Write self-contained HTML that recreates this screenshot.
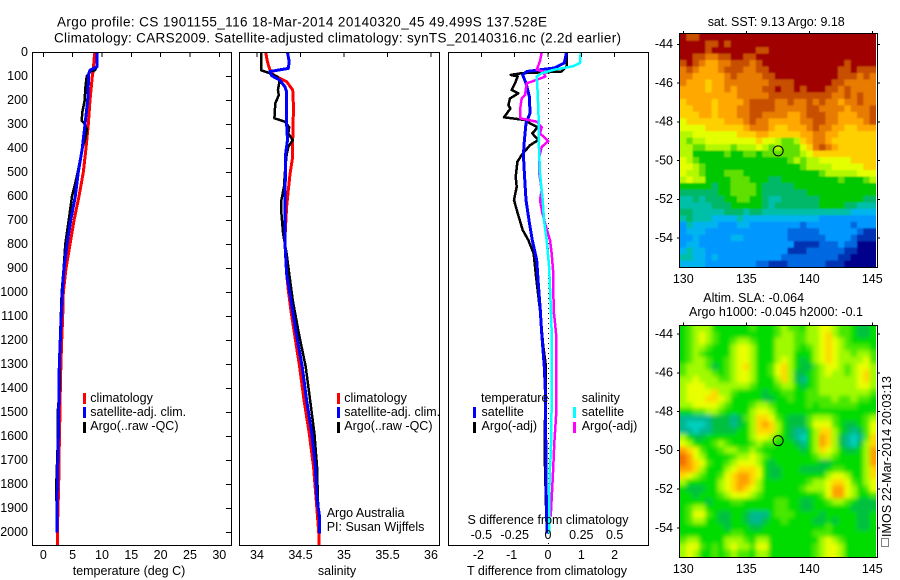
<!DOCTYPE html>
<html>
<head>
<meta charset="utf-8">
<title>Argo profile chart</title>
<style>
html,body{margin:0;padding:0;background:#fff;width:900px;height:580px;overflow:hidden}
svg{display:block}
text{font-family:"Liberation Sans",sans-serif;font-size:12.5px;fill:#000}
.frame{fill:none;stroke:#000;stroke-width:1.4;shape-rendering:crispEdges}
.tick{stroke:#000;stroke-width:1;shape-rendering:crispEdges}
.prof{fill:none;stroke-linejoin:round;shape-rendering:crispEdges}
</style>
</head>
<body>
<svg id="chart" xmlns="http://www.w3.org/2000/svg" width="900" height="580" viewBox="0 0 900 580">
<defs>
<clipPath id="clip-sst"><rect x="680" y="34" width="196" height="233"/></clipPath>
<clipPath id="clip-sla"><rect x="680" y="326" width="196" height="231"/></clipPath>
<filter id="soft" x="-5%" y="-5%" width="110%" height="110%"><feGaussianBlur stdDeviation="2"/></filter>
<filter id="soft-sst" x="-5%" y="-5%" width="110%" height="110%"><feGaussianBlur stdDeviation="0.8"/></filter>
</defs>
<text x="57" y="26.5" style="font-size:13.5px" textLength="490" lengthAdjust="spacing">Argo profile: CS 1901155_116 18-Mar-2014 20140320_45 49.499S 137.528E</text>
<text x="54" y="42.5" style="font-size:13.5px" textLength="567" lengthAdjust="spacing">Climatology: CARS2009. Satellite-adjusted climatology: synTS_20140316.nc (2.2d earlier)</text>

<g id="layer-maps"></g>
<g id="layer-lines"></g>
<g id="layer-axes"></g>

<rect class="frame" x="32.5" y="52.5" width="199" height="493"/>
<rect class="frame" x="239.5" y="52.5" width="200" height="493"/>
<rect class="frame" x="448.5" y="52.5" width="200" height="493"/>
<rect class="frame" x="679.5" y="33.5" width="198" height="234"/>
<rect class="frame" x="679.5" y="325.5" width="198" height="232"/>

<text x="129" y="575" text-anchor="middle">temperature (deg C)</text>
<text x="337" y="575" text-anchor="middle">salinity</text>
<text x="467" y="575">T difference from climatology</text>
<text x="467.5" y="524">S difference from climatology</text>

<g>
<rect x="83" y="393" width="3" height="11" fill="#f00"/>
<rect x="83" y="407" width="3" height="11" fill="#00f"/>
<rect x="83" y="422" width="3" height="11" fill="#000"/>
<text x="90.3" y="402">climatology</text>
<text x="90.3" y="416">satellite-adj. clim.</text>
<text x="90.3" y="430">Argo(..raw -QC)</text>
</g>
<g>
<rect x="337" y="393" width="3" height="11" fill="#f00"/>
<rect x="337" y="407" width="3" height="11" fill="#00f"/>
<rect x="337" y="422" width="3" height="11" fill="#000"/>
<text x="344.3" y="402">climatology</text>
<text x="344.3" y="416">satellite-adj. clim.</text>
<text x="344.3" y="430">Argo(..raw -QC)</text>
<text x="326.7" y="517">Argo Australia</text>
<text x="326.7" y="531">PI: Susan Wijffels</text>
</g>
<g>
<text x="481" y="402">temperature</text>
<text x="581.7" y="402">salinity</text>
<rect x="473" y="407" width="3" height="11" fill="#00f"/>
<rect x="473" y="422" width="3" height="11" fill="#000"/>
<rect x="573" y="407" width="3" height="11" fill="#0ff"/>
<rect x="573" y="422" width="3" height="11" fill="#f0f"/>
<text x="481.5" y="416">satellite</text>
<text x="481.5" y="430">Argo(-adj)</text>
<text x="581.7" y="416">satellite</text>
<text x="581.7" y="430">Argo(-adj)</text>
</g>

<text x="707.7" y="26" textLength="137" lengthAdjust="spacing">sat. SST: 9.13 Argo: 9.18</text>
<text x="703.3" y="302">Altim. SLA: -0.064</text>
<text x="689" y="316" textLength="174" lengthAdjust="spacing">Argo h1000: -0.045 h2000: -0.1</text>
<text transform="translate(891,537) rotate(-90)" textLength="161" lengthAdjust="spacing">IMOS 22-Mar-2014 20:03:13</text>
<rect x="881.5" y="538.5" width="7" height="8" fill="none" stroke="#000" stroke-dasharray="1 1" shape-rendering="crispEdges"/>
</svg>

<script>
// ---------- depth axis ----------
const depthTicks = [0,100,200,300,400,500,600,700,800,900,1000,1100,1200,1300,1400,1500,1600,1700,1800,1900,2000];
const tempTicks = [0,5,10,15,20,25,30];
const salTicks = [34,34.5,35,35.5,36];
const tDiffTicks = [-2,-1,0,1,2];
const tDiffLabels = ['-2','-1','0','1','2'];
const sDiffTicks = [-0.5,-0.25,0,0.25,0.5];
const sDiffLabels = ['-0.5','-0.25','0','0.25','0.5'];
const lonTicks = [130,135,140,145];
const latTicks = [-44,-46,-48,-50,-52,-54];

// ---------- temperature profiles ----------
const climTDepth = [0,75,100,200,300,400,500,600,700,800,900,1000,1100,1200,1300,1400,1500,1600,1800,2000,2055];
const climT = [8.76,8.5,8.35,7.96,7.67,7.28,6.82,6.08,5.23,4.55,3.87,3.41,3.3,3.13,3.0,2.9,2.85,2.75,2.62,2.39,2.39];
const satTDepth = [0,60,75,90,200,300,400,500,600,700,800,900,1000,1100,1200,1300,1400,1600,1800,2000];
const satT = [9.15,9.15,7.96,7.73,7.56,7.1,6.65,5.97,5.46,4.67,4.04,3.53,3.24,3.07,2.9,2.73,2.67,2.56,2.39,2.34];
const argoTDepth = [0,60,75,80,100,150,200,250,285,295,320,360,400,500,550,600,700,800,900,1000,1200,1400,1500,1600,1800,1900,2000];
const argoT = [9.15,9.15,8.8,8.0,7.4,7.16,7.05,6.65,6.55,6.94,7.45,7.16,6.65,5.86,5.4,4.9,4.33,3.75,3.47,3.13,2.85,2.8,2.45,2.5,2.22,2.27,2.34];

// ---------- salinity profiles ----------
const climSDepth = [0,39,87,108,122,157,227,366,435,505,574,644,714,783,853,922,991,1075,1171,1310,1449,1587,1726,1865,2004,2055];
const climS = [34.10,34.12,34.16,34.26,34.34,34.41,34.42,34.41,34.41,34.38,34.36,34.34,34.33,34.32,34.33,34.34,34.36,34.39,34.43,34.49,34.54,34.6,34.65,34.68,34.71,34.71];
const satSDepth = [0,39,67,80,98,115,143,164,296,366,421,505,574,644,783,922,1032,1171,1310,1449,1588,1726,1865,1935,2004];
const satS = [34.35,34.37,34.36,34.15,34.17,34.26,34.32,34.34,34.34,34.35,34.33,34.33,34.32,34.32,34.32,34.34,34.39,34.45,34.52,34.57,34.63,34.67,34.69,34.72,34.72];
const argoSDepth = [0,75,87,101,118,157,178,213,275,289,312,338,366,394,428,505,560,616,671,755,839,922,1032,1171,1310,1449,1588,1726,1865,1935];
const argoS = [34.05,34.05,34.15,34.23,34.26,34.24,34.25,34.21,34.2,34.32,34.37,34.36,34.41,34.36,34.34,34.32,34.31,34.28,34.28,34.3,34.34,34.37,34.41,34.48,34.56,34.61,34.66,34.69,34.7,34.71];

// ---------- difference profiles ----------
const satDTDepth = [0,44,65,80,94,129,185,254,296,366,428,505,616,700,783,866,963,1075,1171,1310,1449,1588,1726,1865,2004];
const satDT = [0.56,0.49,0.2,-0.64,-0.76,-0.66,-0.56,-0.54,-0.66,-0.71,-0.74,-0.71,-0.66,-0.57,-0.47,-0.34,-0.29,-0.23,-0.19,-0.11,-0.07,-0.07,-0.06,-0.05,-0.03];
const argoDTDepth = [0,58,80,87,94,101,129,157,171,192,220,234,271,282,296,312,338,366,387,428,456,519,560,616,671,741,783,839,922,1075,1226,1310,1600,1726,1935];
const argoDT = [0.56,0.56,0.41,-0.79,-1.12,-0.91,-0.99,-1.09,-0.89,-1.14,-1.19,-1.13,-1.32,-0.69,-0.54,-0.31,-0.47,-0.29,-0.54,-0.79,-0.92,-0.97,-0.94,-1.02,-0.91,-0.76,-0.59,-0.43,-0.37,-0.24,-0.14,-0.06,-0.1,-0.09,-0.05];
const satDSDepth = [0,44,58,72,87,101,171,282,366,421,505,616,700,783,894,1075,1171,1449,1671,1726,1865,2004];
const satDS = [0.245,0.24,0.19,0.05,-0.047,-0.085,-0.077,-0.07,-0.07,-0.066,-0.06,-0.04,-0.03,-0.01,0.008,0.022,0.028,0.028,0.022,0.015,0.008,0.008];
const argoDSDepth = [0,37,72,80,101,115,129,157,178,192,241,275,289,312,338,370,394,435,505,574,616,671,727,783,839,922,1075,1115,1171,1518,1629,1726,1810,1935];
const argoDS = [-0.047,-0.06,-0.085,-0.035,-0.02,-0.085,-0.16,-0.167,-0.172,-0.197,-0.21,-0.21,-0.085,-0.047,-0.06,0.002,-0.047,-0.065,-0.065,-0.047,-0.06,-0.042,-0.015,0.015,0.028,0.04,0.042,0.05,0.06,0.06,0.047,0.04,0.032,0.02];

// ---------- SST map: rows north to south, palette level per cell ----------
const sstPalette = ['#00008c','#0030b4','#0068e0','#0098ff','#00b4f0','#00bfa8','#00b868','#00c800','#60e000','#b4f800','#e4ff00','#ffd000','#ffa800','#e87c00','#c85000','#a00000'];
const sstLevels = [
[15,14,14,15,15,15,15,15,15,15,15,15,15,15,15,15,15,15,15,15,15,15,15,15,15,15,15,15,15,15,15],
[15,15,15,15,14,14,15,14,15,15,15,15,15,15,15,15,15,15,15,15,15,15,15,15,15,15,15,15,15,15,15],
[15,15,15,15,14,15,15,15,15,15,15,15,14,14,15,15,15,15,15,15,15,15,15,15,15,15,15,15,15,15,15],
[15,15,14,14,13,13,14,14,15,15,14,14,15,15,15,15,15,15,15,15,15,15,15,15,15,15,15,15,15,15,15],
[14,15,14,13,12,12,13,13,14,14,14,13,14,15,15,15,15,15,15,15,15,15,15,15,15,15,14,15,15,15,15],
[13,14,13,12,12,12,13,14,14,14,13,13,14,14,15,15,15,15,15,15,15,15,15,15,15,14,14,15,14,14,14],
[13,13,12,12,12,12,12,13,14,13,13,13,13,14,14,15,15,15,15,15,15,15,15,15,15,14,14,14,13,14,13],
[13,12,12,12,11,12,12,13,13,13,13,13,13,13,14,14,14,14,15,15,15,15,15,15,14,14,13,13,13,13,13],
[12,12,12,12,11,12,12,13,12,13,13,13,13,14,14,15,14,14,15,14,15,15,15,14,14,13,14,13,13,13,13],
[12,12,12,12,12,12,12,12,12,13,13,13,13,13,14,14,14,14,14,14,14,14,14,14,13,13,14,13,14,13,13],
[11,12,12,12,12,11,12,12,12,12,13,14,14,14,14,13,13,14,13,13,14,13,14,13,13,12,13,13,14,13,13],
[11,11,12,12,12,11,12,12,12,13,13,14,14,14,14,13,13,13,13,13,14,14,13,13,13,13,12,13,13,13,14],
[11,11,11,12,12,11,12,12,12,13,13,14,14,13,13,13,13,12,12,13,14,14,14,13,13,12,12,12,13,13,14],
[10,11,11,11,11,11,11,12,12,12,13,14,13,13,12,12,12,12,12,13,13,14,14,13,13,12,12,12,12,13,14],
[10,10,10,10,11,11,11,11,11,11,12,13,13,13,12,11,11,12,12,12,13,14,13,13,12,12,11,11,12,12,12],
[9,9,10,10,10,10,10,10,10,11,11,11,12,12,11,11,11,11,11,12,12,13,13,12,12,11,11,11,11,11,11],
[9,8,9,9,10,10,10,10,10,10,10,10,11,10,10,9,8,8,9,11,12,13,13,12,11,11,11,11,11,11,11],
[9,9,8,8,9,9,9,9,8,9,9,9,10,9,8,9,8,8,8,10,11,13,14,13,12,11,11,11,11,11,11],
[9,9,7,7,7,7,7,8,7,7,8,8,7,8,8,8,8,8,8,9,10,11,11,11,11,11,11,11,11,11,11],
[10,9,8,7,7,7,7,7,7,7,7,7,7,7,7,7,7,8,9,8,9,9,10,10,10,10,10,11,11,11,11],
[10,10,9,8,7,7,7,7,7,7,7,7,7,7,7,7,7,7,7,8,9,9,9,9,10,10,10,10,10,11,11],
[10,9,9,8,7,7,7,8,8,8,7,7,7,7,7,7,7,7,7,7,7,7,8,9,9,9,9,9,10,10,10],
[9,10,9,9,7,7,7,7,8,8,8,7,7,7,6,6,7,7,7,7,7,7,7,7,7,8,7,7,7,8,9],
[7,7,7,7,7,6,7,7,8,8,8,8,7,6,6,6,6,6,7,7,7,7,7,7,7,7,7,7,7,7,7],
[6,6,6,6,6,6,7,7,8,8,8,8,7,6,6,6,6,6,6,6,7,7,7,7,7,7,7,7,7,7,7],
[5,5,6,5,6,6,6,7,7,8,8,7,7,6,5,5,6,6,6,6,6,6,7,7,7,7,7,7,7,6,6],
[5,5,5,5,5,6,6,6,7,7,7,7,7,6,5,6,6,6,6,6,6,6,7,7,7,7,6,6,5,5,5],
[6,6,5,5,5,5,5,6,6,6,5,6,6,5,5,5,5,5,5,5,5,5,5,5,5,5,5,4,4,4,4],
[5,6,5,5,5,4,4,4,4,5,4,4,4,4,4,4,4,4,4,4,4,4,3,3,3,3,3,3,3,3,3],
[3,5,4,4,4,4,3,3,3,4,4,3,3,3,3,3,3,3,3,2,3,3,3,3,3,3,3,2,3,3,3],
[3,4,4,4,3,3,3,3,3,3,3,3,3,3,3,3,3,2,2,2,2,2,3,3,3,3,3,3,2,1,1],
[3,3,4,3,3,3,3,3,4,4,3,3,3,3,3,3,3,2,2,2,2,2,2,3,3,3,3,2,1,1,1],
[3,4,4,3,3,3,3,3,3,3,3,3,3,3,3,3,3,3,1,1,1,1,2,2,2,3,2,2,0,0,0],
[4,5,4,4,3,3,3,3,3,3,3,3,3,3,3,3,3,1,1,1,2,2,2,2,2,2,1,1,0,0,0],
[5,5,4,4,3,4,3,3,3,3,3,3,3,3,3,3,2,2,2,2,2,2,2,2,2,1,1,0,0,0,0],
[4,4,4,4,3,3,3,3,3,3,3,3,2,2,1,1,1,2,2,2,2,2,2,1,1,1,0,0,0,0,0]
];

// ---------- SLA map: rows north to south, palette level per cell ----------
const slaPalette = ['#00d0c0','#00b890','#00c040','#00dc00','#48e800','#a0fa00','#e8ff00','#ffd800','#ffa000','#f07000'];
const slaLevels = [
[3,4,5,5,5,3,3,3,3,3,3,4,3,3,3,4,5,4,4,3,5,5,6,6,5,4,4,3,2,2,3],
[3,4,5,6,5,4,3,3,3,3,3,3,3,3,3,4,5,5,4,4,5,5,6,7,5,4,4,3,2,2,3],
[3,4,5,6,5,4,3,3,4,5,5,4,3,3,3,5,5,5,4,4,5,5,6,7,6,5,4,3,3,3,3],
[3,4,5,5,4,3,3,3,5,6,6,5,3,3,3,5,5,5,4,3,4,5,6,7,6,5,4,4,4,4,3],
[3,4,5,4,3,3,3,3,5,6,6,5,3,3,3,5,5,5,3,3,3,5,6,7,6,5,5,4,5,5,4],
[3,4,5,5,4,3,3,4,5,6,6,5,3,3,3,5,6,5,3,2,3,5,6,7,6,5,5,5,5,6,4],
[4,5,5,5,4,2,3,4,5,6,7,5,3,3,4,6,7,5,3,2,2,4,5,6,6,5,4,5,6,6,5],
[4,5,5,5,5,4,3,4,5,6,6,5,3,3,4,6,7,5,2,2,3,4,5,6,5,5,4,5,6,7,5],
[5,5,6,5,5,5,4,4,5,6,6,5,3,3,3,5,7,5,2,1,3,4,5,5,5,5,5,5,6,7,5],
[5,6,6,6,5,5,5,5,5,5,5,4,3,3,3,4,5,5,3,2,3,4,5,5,5,5,5,5,6,6,5],
[5,6,6,6,6,7,5,5,4,3,3,3,3,2,3,3,4,4,3,3,4,4,5,5,5,5,5,5,5,5,4],
[5,6,6,6,7,7,6,5,3,3,3,3,3,2,2,3,3,4,3,3,4,4,4,4,5,4,4,5,4,4,3],
[5,5,6,6,6,6,5,4,3,3,3,4,5,5,4,3,3,3,3,3,4,3,4,4,4,4,4,4,3,3,3],
[3,3,4,4,5,5,4,3,3,3,3,5,6,6,5,3,3,3,3,3,3,3,3,3,3,3,3,3,3,3,3],
[1,1,1,1,1,2,2,2,1,2,4,5,7,7,6,4,3,2,2,2,4,5,5,5,4,3,3,3,3,4,5],
[1,0,0,0,1,2,2,2,1,2,3,5,7,8,7,5,3,2,2,2,4,6,6,6,4,3,2,2,3,4,6],
[1,1,0,1,1,2,2,2,2,3,3,5,7,7,7,5,3,2,1,1,3,5,7,7,5,3,2,1,2,4,6],
[5,3,2,2,3,3,3,3,3,3,3,5,6,6,5,4,3,2,1,0,3,5,8,7,5,2,1,0,1,4,7],
[6,5,3,3,3,4,5,4,3,3,3,4,5,4,4,3,3,3,2,1,3,5,8,7,5,2,1,0,2,5,7],
[8,7,6,4,3,3,4,5,5,4,4,5,4,3,3,3,3,3,3,2,3,5,7,6,5,3,2,2,3,5,8],
[9,8,6,5,3,3,3,3,4,5,5,6,5,4,3,3,3,3,3,3,3,4,5,5,4,3,3,3,3,5,8],
[9,8,7,6,4,3,3,4,5,6,6,6,5,3,2,3,3,3,3,3,3,3,2,2,3,3,3,3,3,5,8],
[8,8,7,5,3,3,3,5,6,7,7,7,6,3,2,2,3,3,3,2,2,2,2,3,4,4,3,3,3,5,7],
[7,6,5,4,3,3,4,6,7,8,8,7,6,3,2,2,3,3,3,3,3,3,3,5,6,6,5,3,3,5,7],
[5,3,3,3,3,3,5,6,7,8,8,7,5,3,3,3,3,3,3,3,4,5,5,6,7,7,6,4,3,5,6],
[3,2,2,2,3,3,5,6,7,8,7,6,5,3,3,3,3,3,3,4,5,5,5,6,8,8,6,5,3,4,6],
[3,3,2,3,3,3,4,5,6,6,6,5,4,3,3,3,3,3,3,3,3,3,4,6,8,8,6,5,3,3,4],
[3,3,3,3,2,3,3,3,4,4,3,3,3,3,3,4,4,3,3,2,2,3,3,4,5,5,4,3,2,2,2],
[3,4,5,5,3,3,3,3,3,3,3,3,3,3,3,4,4,3,3,2,2,3,3,3,3,3,3,2,2,2,2],
[3,4,6,6,4,3,2,2,3,3,2,1,1,1,3,4,4,4,3,3,3,3,2,3,3,3,3,3,2,2,3],
[3,4,5,5,3,3,2,2,3,3,2,1,1,2,3,3,4,3,3,3,3,2,2,3,2,3,3,3,2,2,3],
[3,3,3,3,3,3,3,2,3,3,3,2,2,3,3,3,3,3,3,3,3,3,3,4,3,3,3,3,2,2,3],
[3,3,3,3,3,3,3,3,4,4,3,3,3,3,3,3,3,3,3,3,3,4,4,4,3,3,3,3,3,3,3],
[4,5,5,3,3,3,3,5,5,5,4,3,5,5,3,3,3,3,3,3,3,3,5,6,5,4,3,3,3,3,3],
[5,6,6,4,3,4,3,5,6,5,5,4,6,6,3,3,3,3,3,3,3,4,5,6,6,5,3,3,3,3,3],
[5,6,5,3,3,4,3,4,5,4,4,3,5,5,3,3,3,3,3,3,3,4,5,6,6,5,3,3,3,3,3]
];

const argoLon = 137.528;
const argoLat = -49.499;

// ---------- axis functions ----------
const yDepth = d => 52.3 + 0.24 * d;
const xTemp = t => 43.3 + 5.867 * t;
const xSal = s => 257 + 87 * (s - 34);
const xDT = v => 548 + 33.3 * v;
const xDS = v => 548 + 133.3 * v;
const xLon = lon => 683.3 + 12.6 * (lon - 130);
const ySst = lat => 44.3 + 19.37 * (-44 - lat);
const ySla = lat => 334 + 19.4 * (-44 - lat);
const lonAtEdge = (i, n) => 129.74 + i * (145.29 - 129.74) / n;
const sstLatAtEdge = (i, n) => -43.48 - i * 12.02 / n;
const slaLatAtEdge = (i, n) => -43.53 - i * 11.92 / n;

const NS = 'http://www.w3.org/2000/svg';
const layerMaps = document.getElementById('layer-maps');
const layerLines = document.getElementById('layer-lines');
const layerAxes = document.getElementById('layer-axes');

function mk(tag, parent, props) {
  const el = document.createElementNS(NS, tag);
  for (const k in props) el.setAttribute(k, props[k]);
  parent.appendChild(el);
  return el;
}

function drawProfile(name, depths, values, xFn, color, width) {
  const pts = depths.map((d, i) => xFn(values[i]).toFixed(1) + ',' + yDepth(d).toFixed(1)).join(' ');
  const el = mk('polyline', layerLines, {class: 'prof', points: pts, stroke: color, 'stroke-width': width});
  
  
}

function drawTick(name, x1, y1, x2, y2) {
  const el = mk('line', layerAxes, {class: 'tick', x1: x1, y1: y1, x2: x2, y2: y2});
  
  
}

function drawLabel(name, x, y, str, anchor) {
  const el = mk('text', layerAxes, {x: x, y: y, 'text-anchor': anchor});
  el.textContent = str;
  
  
}

function drawMap(name, levels, palette, latEdge, yFn, parent) {
  const rows = levels.length;
  levels.forEach((row, r) => {
    const cols = row.length;
    row.forEach((lv, c) => {
      // Outer cells bleed past the clip so the blur does not fade at the map edge.
      const x0 = xLon(lonAtEdge(c, cols)) - (c === 0 ? 8 : 0);
      const x1 = xLon(lonAtEdge(c + 1, cols)) + (c === cols - 1 ? 8 : 0);
      const y0 = yFn(latEdge(r, rows)) - (r === 0 ? 8 : 0);
      const y1 = yFn(latEdge(r + 1, rows)) + (r === rows - 1 ? 8 : 0);
      const cell = mk('rect', parent, {x: x0.toFixed(2), y: y0.toFixed(2), width: (x1 - x0 + 0.4).toFixed(2), height: (y1 - y0 + 0.4).toFixed(2), fill: palette[lv]});
      
      
    });
  });
}

// ---------- maps ----------
const sstClip = mk('g', layerMaps, {'clip-path': 'url(#clip-sst)'});


const sstGroup = mk('g', sstClip, {filter: 'url(#soft-sst)'});


drawMap('sst', sstLevels, sstPalette, sstLatAtEdge, ySst, sstGroup);

const slaClip = mk('g', layerMaps, {'clip-path': 'url(#clip-sla)'});


const slaGroup = mk('g', slaClip, {filter: 'url(#soft)'});


drawMap('sla', slaLevels, slaPalette, slaLatAtEdge, ySla, slaGroup);

const sstMarker = mk('circle', layerMaps, {cx: xLon(argoLon), cy: ySst(argoLat), r: 5, fill: 'none', stroke: '#000', 'stroke-width': 1});


const slaMarker = mk('circle', layerMaps, {cx: xLon(argoLon), cy: ySla(argoLat), r: 5, fill: 'none', stroke: '#000', 'stroke-width': 1});



// ---------- profiles ----------
drawProfile('temperature-climatology-line', climTDepth, climT, xTemp, '#f00', 3);
drawProfile('temperature-argo-line', argoTDepth, argoT, xTemp, '#000', 2.5);
drawProfile('temperature-satellite-line', satTDepth, satT, xTemp, '#00f', 3);

drawProfile('salinity-climatology-line', climSDepth, climS, xSal, '#f00', 3);
drawProfile('salinity-argo-line', argoSDepth, argoS, xSal, '#000', 2.5);
drawProfile('salinity-satellite-line', satSDepth, satS, xSal, '#00f', 3);

const zeroLine = mk('line', layerLines, {x1: xDT(0) + 0.5, y1: 53, x2: xDT(0) + 0.5, y2: 545, stroke: '#000', 'stroke-width': 1, 'stroke-dasharray': '1 4', 'shape-rendering': 'crispEdges'});



drawProfile('t-diff-argo-line', argoDTDepth, argoDT, xDT, '#000', 2.5);
drawProfile('t-diff-satellite-line', satDTDepth, satDT, xDT, '#00f', 3);
drawProfile('s-diff-argo-line', argoDSDepth, argoDS, xDS, '#f0f', 2.5);
drawProfile('s-diff-satellite-line', satDSDepth, satDS, xDS, '#0ff', 2.5);

// ---------- axes ----------
depthTicks.forEach(d => {
  drawTick('depth-tick', 226, yDepth(d), 231, yDepth(d));
  drawLabel('depth-tick-label', 28, yDepth(d) + 3.8, String(d), 'end');
});
tempTicks.forEach(t => {
  drawTick('temperature-tick', xTemp(t), 53, xTemp(t), 57);
  drawLabel('temperature-tick-label', xTemp(t), 559, String(t), 'middle');
});
salTicks.forEach(s => {
  drawTick('salinity-tick', xSal(s), 53, xSal(s), 57);
  drawLabel('salinity-tick-label', xSal(s), 559, String(s), 'middle');
});
tDiffTicks.forEach((v, i) => {
  drawTick('t-difference-tick', xDT(v), 53, xDT(v), 57);
  drawLabel('t-difference-tick-label', xDT(v) - (v < 0 ? 3 : 0), 559, tDiffLabels[i], 'middle');
});
sDiffTicks.forEach((v, i) => {
  drawLabel('s-difference-tick-label', xDS(v), 539, sDiffLabels[i], 'middle');
});
lonTicks.forEach(lon => {
  drawTick('sst-lon-tick', xLon(lon), 31, xLon(lon), 33.5);
  drawLabel('sst-lon-tick-label', xLon(lon), 283, String(lon), 'middle');
  drawTick('sla-lon-tick', xLon(lon), 322.5, xLon(lon), 325);
  drawLabel('sla-lon-tick-label', xLon(lon), 573, String(lon), 'middle');
});
latTicks.forEach(lat => {
  drawTick('sst-lat-tick', 677, ySst(lat), 679, ySst(lat));
  drawTick('sst-lat-tick-right', 878, ySst(lat), 880, ySst(lat));
  drawLabel('sst-lat-tick-label', 673, ySst(lat) + 3.8, String(lat), 'end');
  drawTick('sla-lat-tick', 677, ySla(lat), 679, ySla(lat));
  drawTick('sla-lat-tick-right', 878, ySla(lat), 880, ySla(lat));
  drawLabel('sla-lat-tick-label', 673, ySla(lat) + 3.8, String(lat), 'end');
});
</script>
</body>
</html>
